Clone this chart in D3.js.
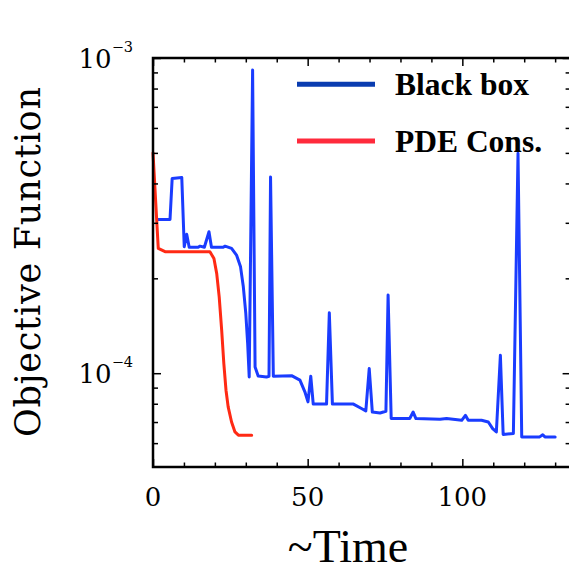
<!DOCTYPE html>
<html>
<head>
<meta charset="utf-8">
<script src="https://cdn.jsdelivr.net/npm/d3@7"></script>
<style>
  html, body { margin: 0; padding: 0; background: #fff; }
  svg { display: block; }
</style>
</head>
<body>
<svg id="chart" width="569" height="568"></svg>
<script>
// ---- data ----
const seriesNames = ["Black box", "PDE Cons."];
const blackBoxTime = [1.5, 5.5, 6.2, 9.3, 10.1, 10.9, 11.7, 14.6, 15.2, 16.6, 18.1, 18.9, 22.7, 23.3, 25.4, 27, 28.3, 29.2, 30, 30.6, 31.1, 32.2, 33, 34, 36.7, 37.5, 38, 38.9, 44.8, 47.5, 49.1, 50.1, 51, 51.8, 56.1, 57, 58, 64.8, 67.4, 68.8, 69.9, 70.9, 73.4, 75.3, 76, 77, 83, 84.1, 85, 92.8, 94.9, 99.8, 101, 101.9, 106.2, 108.4, 109.8, 111, 112.3, 113.2, 116.5, 118, 119.2, 125, 126, 126.7, 130];
const blackBoxValue = [3.075e-4, 3.075e-4, 4.15e-4, 4.18e-4, 2.52e-4, 2.76e-4, 2.51e-4, 2.51e-4, 2.53e-4, 2.51e-4, 2.81e-4, 2.51e-4, 2.51e-4, 2.53e-4, 2.49e-4, 2.37e-4, 2.175e-4, 1.88e-4, 1.547e-4, 1.243e-4, 9.73e-5, 9.16e-4, 1.047e-4, 9.80e-5, 9.73e-5, 9.78e-5, 4.19e-4, 9.78e-5, 9.82e-5, 9.51e-5, 8.73e-5, 8.11e-5, 9.78e-5, 7.98e-5, 7.98e-5, 1.555e-4, 7.98e-5, 7.98e-5, 7.73e-5, 7.59e-5, 1.035e-4, 7.53e-5, 7.48e-5, 7.57e-5, 1.77e-4, 7.18e-5, 7.18e-5, 7.53e-5, 7.18e-5, 7.14e-5, 7.18e-5, 7.09e-5, 7.35e-5, 7.09e-5, 7.09e-5, 7.00e-5, 6.67e-5, 6.51e-5, 1.14e-4, 6.39e-5, 6.44e-5, 4.99e-4, 6.28e-5, 6.28e-5, 6.38e-5, 6.28e-5, 6.28e-5];
const pdeTime = [0, 1.7, 3.9, 17.4, 18.4, 19.7, 20.6, 21.4, 22.2, 22.9, 23.6, 24.3, 25.4, 26.5, 27.6, 31.9];
const pdeValue = [5.0e-4, 2.49e-4, 2.43e-4, 2.43e-4, 2.43e-4, 2.31e-4, 2.07e-4, 1.747e-4, 1.37e-4, 1.073e-4, 8.83e-5, 7.82e-5, 7.00e-5, 6.51e-5, 6.36e-5, 6.36e-5];
const xMajorTicks = [0, 50, 100];
const xMinorTicks = [10, 20, 30, 40, 60, 70, 80, 90, 110, 120, 130];
const yMajorTicks = [1e-4, 1e-3];
const yMajorLabels = ["\u22124", "\u22123"];
const yMinorTicks = [6e-5, 7e-5, 8e-5, 9e-5, 2e-4, 3e-4, 4e-4, 5e-4, 6e-4, 7e-4, 8e-4, 9e-4];

// ---- layout ----
const L = 153, R = 570.6, T = 58, B = 467;
const svg = d3.select("#chart");
const x = d3.scaleLinear().domain([0, 135]).range([L, R]);
const y = d3.scaleLog().domain([5.04e-5, 1e-3]).range([B, T]);

// lines
const line = d3.line().x(d => x(d[0])).y(d => y(d[1])).curve(d3.curveLinear);
const blue = blackBoxTime.map((t, i) => [t, blackBoxValue[i]]);
const red = pdeTime.map((t, i) => [t, pdeValue[i]]);

const plot = svg.append("g");
plot.append("path").datum(blue).attr("d", line)
  .attr("fill", "none").attr("stroke", "#1a3cff").attr("stroke-width", 3)
  .attr("stroke-linejoin", "round").attr("stroke-linecap", "round");
plot.append("path").datum(red).attr("d", line)
  .attr("fill", "none").attr("stroke", "#ff2a14").attr("stroke-width", 3)
  .attr("stroke-linejoin", "round").attr("stroke-linecap", "round");

// axes (inward ticks)
function styleAxis(g) {
  g.select(".domain").remove();
  g.selectAll("line").attr("stroke", "#000").attr("stroke-width", 1.5);
}
svg.append("g").attr("transform", `translate(0,${B})`)
  .call(d3.axisBottom(x).tickValues(xMajorTicks).tickSize(-8).tickFormat(""))
  .call(styleAxis);
svg.append("g").attr("transform", `translate(0,${B})`)
  .call(d3.axisBottom(x).tickValues(xMinorTicks).tickSize(-4.5).tickFormat(""))
  .call(styleAxis);
svg.append("g").attr("transform", `translate(0,${T})`)
  .call(d3.axisTop(x).tickValues(xMajorTicks).tickSize(-8).tickFormat(""))
  .call(styleAxis);
svg.append("g").attr("transform", `translate(0,${T})`)
  .call(d3.axisTop(x).tickValues(xMinorTicks).tickSize(-4.5).tickFormat(""))
  .call(styleAxis);
svg.append("g").attr("transform", `translate(${L},0)`)
  .call(d3.axisLeft(y).tickValues(yMajorTicks).tickSize(-8).tickFormat(""))
  .call(styleAxis);
svg.append("g").attr("transform", `translate(${L},0)`)
  .call(d3.axisLeft(y).tickValues(yMinorTicks).tickSize(-5).tickFormat(""))
  .call(styleAxis);
svg.append("g").attr("transform", `translate(${R},0)`)
  .call(d3.axisRight(y).tickValues(yMajorTicks).tickSize(-8).tickFormat(""))
  .call(styleAxis);
svg.append("g").attr("transform", `translate(${R},0)`)
  .call(d3.axisRight(y).tickValues(yMinorTicks).tickSize(-5).tickFormat(""))
  .call(styleAxis);

// frame
svg.append("rect").attr("x", L).attr("y", T).attr("width", R - L).attr("height", B - T)
  .attr("fill", "none").attr("stroke", "#000").attr("stroke-width", 2.5);

// x tick labels
svg.append("g").selectAll("text").data(xMajorTicks).join("text")
  .attr("x", d => x(d)).attr("y", 505.5)
  .attr("text-anchor", "middle")
  .attr("font-family", "DejaVu Serif").attr("font-size", 26)
  .attr("fill", "#000")
  .text(d => d);

// y tick labels 10^n
const yl = svg.append("g").selectAll("text").data(yMajorTicks).join("text")
  .attr("x", 133).attr("y", d => y(d) + 10)
  .attr("text-anchor", "end")
  .attr("font-family", "DejaVu Serif").attr("fill", "#000");
yl.append("tspan").attr("font-size", 26).text("10");
yl.append("tspan").attr("font-size", 14.5).attr("dy", -16.5).text((d, i) => yMajorLabels[i]);

// axis titles
svg.append("text")
  .attr("transform", "translate(40,262) rotate(-90)")
  .attr("text-anchor", "middle")
  .attr("font-family", "DejaVu Serif").attr("font-size", 35)
  .attr("textLength", 350).attr("lengthAdjust", "spacing")
  .attr("fill", "#000")
  .text("Objective Function");
svg.append("text")
  .attr("x", 348).attr("y", 562)
  .attr("text-anchor", "middle")
  .attr("font-family", "Liberation Serif").attr("font-size", 46)
  .attr("fill", "#000")
  .text("~Time");

// legend
const legendColors = ["#0a3cb0", "#ff2a3c"];
const legendY = [84.3, 141];
const lg = svg.append("g");
seriesNames.forEach((name, i) => {
  lg.append("line").attr("x1", 297).attr("x2", 375)
    .attr("y1", legendY[i]).attr("y2", legendY[i])
    .attr("stroke", legendColors[i]).attr("stroke-width", 5);
  lg.append("text").attr("x", 395).attr("y", legendY[i] + 10.7)
    .attr("font-family", "Liberation Serif").attr("font-weight", "bold")
    .attr("font-size", 31.5).attr("fill", "#000")
    .text(name);
});
</script>
</body>
</html>
